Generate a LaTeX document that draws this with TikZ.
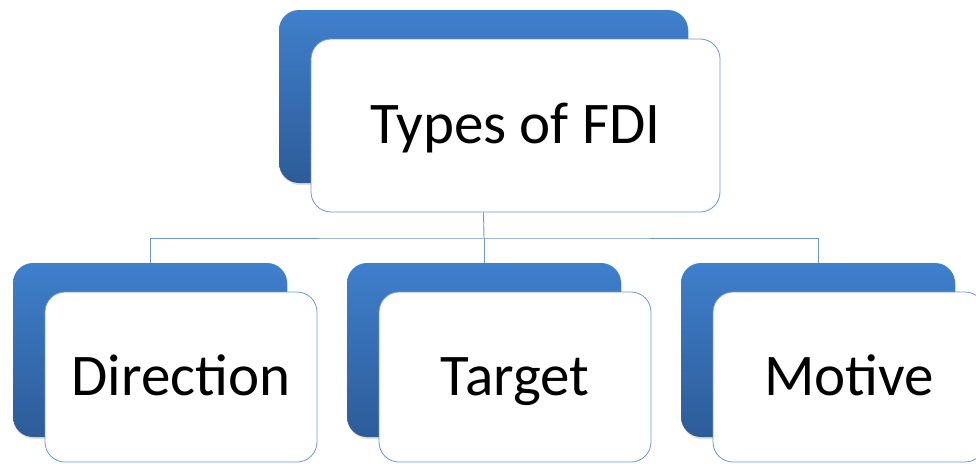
\documentclass[tikz,border=0pt]{standalone}
\usepackage{fontspec}
\setmainfont{Carlito}
\usepackage{xcolor}
\usetikzlibrary{shadows}

\definecolor{backtop}{HTML}{3F7FCC}
\definecolor{backbot}{HTML}{2D5C98}
\definecolor{edgeblue}{HTML}{6F98D0}

\tikzset{
  backbox/.style={rounded corners=20pt, top color=backtop, bottom color=backbot,
    draw=none, inner sep=0pt,
    drop shadow={opacity=0.25, shadow xshift=1pt, shadow yshift=-2pt}},
  frontbox/.style={rounded corners=20pt, fill=white, draw=edgeblue, line width=0.8pt,
    inner sep=0pt, text height=40pt, text depth=4pt,
    font=\fontsize{59}{62}\selectfont},
  link/.style={draw=edgeblue, line width=0.9pt}
}

\begin{document}
\begin{tikzpicture}[x=1pt, y=-1pt]
	\clip (0,0) rectangle (976,463);
	\fill[white] (0,0) rectangle (976,463);
	% Caja superior
	\node[backbox, minimum width=409pt, minimum height=173pt] (fdiback) at (483.5,96.5) {};
	\node[frontbox, minimum width=409pt, minimum height=173pt] (fdi) at (515.5,125.5) {Types of FDI};
	% Cajas inferiores
	\node[backbox, minimum width=274pt, minimum height=174pt] (dirback) at (150,350) {};
	\node[backbox, minimum width=274pt, minimum height=174pt] (tarback) at (484,350) {};
	\node[backbox, minimum width=274pt, minimum height=174pt] (motback) at (818,350) {};
	% Conectores
	\coordinate (bus) at (484,238);
	\draw[link] (fdiback.center |- fdi.south) -- (bus);
	\draw[link] (dirback.north) |- (bus) -| (motback.north);
	\draw[link] (bus) -- (tarback.north);
	% Textos inferiores
	\node[frontbox, minimum width=272pt, minimum height=170pt] (dir) at (181,377) {Direction};
	\node[frontbox, minimum width=272pt, minimum height=170pt] (tar) at (515,377) {Target};
	\node[frontbox, minimum width=272pt, minimum height=170pt] (mot) at (849,377) {Motive};
\end{tikzpicture}
\end{document}
